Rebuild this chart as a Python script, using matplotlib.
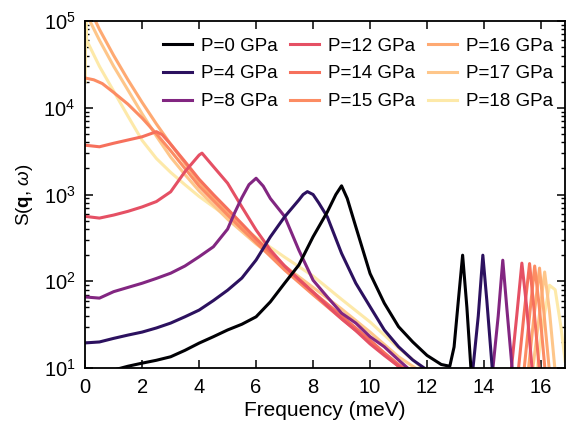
import matplotlib
matplotlib.use("Agg")
import matplotlib.pyplot as plt

plt.rcParams['font.family'] = ['Liberation Sans', 'DejaVu Sans']
plt.rcParams['mathtext.fontset'] = 'custom'
plt.rcParams['mathtext.rm'] = 'Liberation Sans'
plt.rcParams['mathtext.it'] = 'Liberation Sans:italic'
plt.rcParams['mathtext.bf'] = 'Liberation Sans:bold'

# spectra: frequency (meV) and S(q,w)
f0 = [1.0, 1.5, 2, 2.5, 3, 3.5, 4, 4.5, 5, 5.5, 6, 6.5, 7, 7.5, 8, 8.5, 8.8, 9, 9.2, 9.5,
      10, 10.5, 11, 11.5, 12, 12.5, 12.8, 12.95, 13.1, 13.25, 13.4, 13.55]
s0 = [9.5, 10.5, 11.4, 12.3, 13.5, 16, 19.4, 23, 27.5, 32, 39, 58, 95, 154, 326, 630, 1000, 1260, 900, 425,
      123, 56, 30, 20, 14, 11, 10.5, 17.5, 60, 200, 50, 9]

f4 = [0, 0.5, 1, 1.5, 2, 2.5, 3, 3.5, 4, 4.5, 5, 5.5, 6, 6.5, 7, 7.5, 7.65, 7.8, 8.0, 8.2, 8.5, 9, 9.5,
      10, 10.5, 11, 11.5, 12, 13.6, 13.8, 13.96, 14.1, 14.3]
s4 = [19.5, 20, 22, 24, 26, 29, 33, 39, 46.6, 60, 79, 109, 176, 325, 553, 865, 1000, 1080, 1000, 800, 553, 210, 95,
      51, 27.5, 17.6, 12.4, 9.5, 9, 40, 200, 60, 9]

f8 = [0, 0.5, 1, 1.5, 2, 2.5, 3, 3.5, 4, 4.5, 5, 5.25, 5.5, 5.75, 6, 6.25, 6.5, 7, 7.5, 8, 8.5, 9, 9.5,
      10, 10.5, 11, 11.4, 14.3, 14.5, 14.66, 14.8, 15.0]
s8 = [66, 64, 76, 85, 95, 108, 124, 150, 192, 250, 400, 620, 920, 1300, 1540, 1250, 900, 560, 229, 103, 66, 43, 33,
      23, 17.6, 12.4, 9.5, 9, 40, 175, 50, 9]

f12 = [0, 0.5, 1, 1.5, 2, 2.5, 3, 3.5, 4, 4.1, 4.5, 5, 5.5, 6, 6.5, 7, 7.5, 8, 8.5, 9, 9.5,
       10, 10.5, 11, 11.2, 14.95, 15.15, 15.33, 15.5, 15.7]
s12 = [560, 535, 580, 640, 720, 830, 1075, 1830, 2850, 3000, 2100, 1350, 720, 390, 230, 150, 105, 75, 52, 37, 27,
       19, 14, 10.5, 9.5, 9, 40, 162, 50, 9]

f14 = [0, 0.5, 1, 1.5, 2, 2.5, 2.7, 3, 3.5, 4, 4.5, 5, 5.5, 6, 7, 8, 9, 10, 10.5, 11, 11.3,
       15.2, 15.4, 15.6, 15.75, 15.95]
s14 = [3700, 3550, 3900, 4250, 4630, 5300, 4900, 3800, 2400, 1500, 1000, 680, 460, 310, 150, 75, 40, 21, 15, 11, 9.5,
       9, 40, 160, 50, 9]

f15 = [0, 0.3, 0.6, 1, 1.5, 2, 2.5, 3, 3.5, 4, 4.5, 5, 5.5, 6, 7, 8, 9, 10, 10.5, 11, 11.2,
       15.4, 15.6, 15.78, 15.95, 16.15]
s15 = [22000, 21000, 19000, 15000, 11000, 7600, 5000, 3200, 2000, 1250, 850, 580, 400, 280, 135, 70, 37, 20, 14.5, 10.5, 9.5,
       9, 40, 150, 48, 9]

f16 = [0.3, 0.5, 1, 1.5, 2, 2.5, 3, 3.5, 4, 4.5, 5, 6, 7, 8, 9, 10, 11, 11.3,
       15.55, 15.75, 15.95, 16.1, 16.3]
s16 = [110000, 80000, 40000, 21000, 11500, 6500, 3800, 2300, 1400, 920, 620, 290, 140, 72, 39, 20.5, 10.5, 9.5,
       9, 38, 142, 45, 9]

f17 = [0.1, 0.5, 1, 1.5, 2, 2.5, 3, 3.5, 4, 5, 6, 7, 8, 9, 10, 11, 11.5, 11.7,
       15.7, 15.92, 16.13, 16.3, 16.5]
s17 = [110000, 60000, 30000, 16000, 8500, 4700, 2700, 1700, 1100, 520, 270, 150, 85, 48, 26, 13.5, 10.5, 9.5,
       9, 35, 128, 45, 9]

f18 = [0, 0.02, 0.05, 0.5, 1, 1.5, 2, 2.5, 3, 3.5, 4, 5, 6, 7, 8, 9, 10, 11, 11.5, 11.9,
       15.85, 16.05, 16.3, 16.5, 16.7, 16.85]
s18 = [20000, 110000, 60000, 30000, 15500, 8000, 4200, 2600, 1800, 1300, 950, 550, 320, 190, 115, 62, 34, 17, 12.5, 9.5,
       9, 30, 90, 80, 30, 12]

pressures = [0, 4, 8, 12, 14, 15, 16, 17, 18]
freqs = [f0, f4, f8, f12, f14, f15, f16, f17, f18]
spectra = [s0, s4, s8, s12, s14, s15, s16, s17, s18]
colors = ['#000004', '#2c115f', '#822681', '#e55064', '#f6705c',
          '#fc8c63', '#fea972', '#fec68a', '#fde9a9']

fig = plt.figure(figsize=(5.68, 4.28), dpi=100)
ax = fig.add_axes([0.150, 0.140, 0.845, 0.811])

# draw from the last (pale) to the first so the dark curves sit on top
for i in range(len(pressures) - 1, -1, -1):
    ax.plot(freqs[i], spectra[i], color=colors[i], lw=2.2,
            label='P=%d GPa' % pressures[i])

ax.set_yscale('log')
ax.set_xlim(0, 16.85)
ax.set_ylim(10, 1e5)
ax.set_xticks(range(0, 17, 2))
ax.tick_params(which='both', direction='in', top=True, right=True, labelsize=14.5, pad=7)
ax.tick_params(which='major', length=6, width=1.1)
ax.tick_params(which='minor', length=3, width=1.0)
for sp in ax.spines.values():
    sp.set_linewidth(1.3)

ax.set_xlabel('Frequency (meV)', fontsize=15, labelpad=3)
ax.set_ylabel(r'S($\mathbf{q}$, $\omega$)', fontsize=13.5, labelpad=6)

handles, labels = ax.get_legend_handles_labels()
handles, labels = handles[::-1], labels[::-1]
ax.legend(handles, labels, ncol=3, loc='upper right', frameon=False, fontsize=13.5,
          handlelength=1.55, handletextpad=0.48, columnspacing=0.65, labelspacing=0.57,
          borderaxespad=0, bbox_to_anchor=(0.99, 0.974))

fig.savefig('out.png', dpi=100)
